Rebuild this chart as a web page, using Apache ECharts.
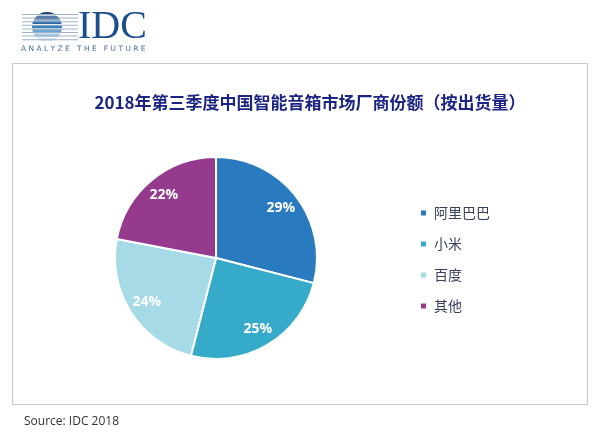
<!DOCTYPE html>
<html>
<head>
<meta charset="utf-8">
<script src="https://cdn.jsdelivr.net/npm/echarts@6/dist/echarts.min.js"></script>
<style>
  html, body { margin: 0; padding: 0; background: #fff; }
  #chart { width: 600px; height: 436px; }
</style>
</head>
<body>
<div id="chart"></div>
<script>
// 厂商 & 份额
const vendors = ['阿里巴巴', '小米', '百度', '其他'];
const shares = [29, 25, 24, 22];
const colors = ['#2a7abf', '#36abc9', '#a5dae6', '#963a8e'];

const chart = echarts.init(document.getElementById('chart'), null, { renderer: 'canvas' });

let pieData = vendors.map((name, i) => ({ name, value: shares[i] }));

// IDC logo 横条纹
let logoLines = [];
for (let i = 0; i < 8; i++) {
  let y = 14 + i * 3.6;
  logoLines.push({
    type: 'rect',
    shape: { x: 22, y: y, width: 56, height: 1 },
    style: { fill: '#9fb3c8' },
    z: 1
  });
}
// 圆形上的深浅条纹
let circleStripes = [];
const stripeColors = ['#1b3f6e', '#1f4f86', '#2a66a3', '#3f80bb', '#6fa3cf', '#a9c8e3', '#d6e5f2'];
for (let i = 0; i < 7; i++) {
  let y0 = 12 + i * 4.3;
  circleStripes.push({
    type: 'rect',
    shape: { x: 30, y: y0, width: 34, height: 3.3 },
    style: { fill: stripeColors[i] }
  });
}

let option = {
  backgroundColor: '#ffffff',
  color: colors,
  title: {
    text: '2018年第三季度中国智能音箱市场厂商份额（按出货量）',
    left: 305,
    textAlign: 'center',
    top: 89,
    textStyle: {
      fontFamily: 'Noto Sans CJK SC',
      fontSize: 17,
      fontWeight: 'bold',
      color: '#1c2682'
    }
  },
  legend: {
    orient: 'vertical',
    left: 414,
    top: 201,
    itemWidth: 7,
    itemHeight: 7,
    itemGap: 17,
    icon: 'rect',
    selectedMode: false,
    data: vendors,
    textStyle: {
      fontFamily: 'Noto Sans CJK SC',
      fontSize: 14,
      color: '#3a3f5c',
      padding: [0, 0, 0, 2]
    }
  },
  graphic: [
    // 外框
    {
      type: 'rect',
      shape: { x: 12.5, y: 63.5, width: 575, height: 341 },
      style: { fill: 'none', stroke: '#c8c8c8', lineWidth: 1.2 },
      z: 0
    },
    ...logoLines,
    {
      type: 'group',
      children: [
        {
          type: 'circle',
          shape: { cx: 47, cy: 27, r: 15 },
          style: { fill: '#fff' }
        }
      ],
      z: 2
    },
    {
      type: 'group',
      clipPath: { type: 'circle', shape: { cx: 47, cy: 27, r: 15 } },
      children: circleStripes,
      z: 3
    },
    {
      type: 'text',
      left: 78,
      top: 7,
      style: {
        text: 'IDC',
        font: '40px "Liberation Serif", "DejaVu Serif", serif',
        fill: '#1d4f8c'
      },
      z: 3
    },
    {
      type: 'text',
      left: 21,
      top: 45,
      style: {
        text: 'A N A L Y Z E   T H E   F U T U R E',
        font: '7.5px "DejaVu Sans", sans-serif',
        fill: '#4a6f98'
      },
      z: 3
    },
    {
      type: 'text',
      left: 24,
      top: 416,
      style: {
        text: 'Source: IDC 2018',
        font: '12px "Open Sans", "Noto Sans", sans-serif',
        fill: '#333333'
      }
    }
  ],
  series: [
    {
      type: 'pie',
      center: [216, 258],
      radius: [0, 101],
      startAngle: 90,
      clockwise: true,
      silent: true,
      label: { show: false },
      labelLine: { show: false },
      itemStyle: { borderColor: '#ffffff', borderWidth: 2 },
      data: pieData
    },
    {
      // 只画标签, 放在外圈位置
      type: 'pie',
      center: [216, 258],
      radius: [57, 101],
      startAngle: 90,
      clockwise: true,
      silent: true,
      itemStyle: { color: 'rgba(0,0,0,0)' },
      label: {
        show: true,
        position: 'inside',
        formatter: '{c}%',
        color: '#ffffff',
        fontFamily: 'Open Sans',
        fontWeight: 'bold',
        fontSize: 14
      },
      labelLine: { show: false },
      data: pieData
    }
  ]
};

chart.setOption(option);
</script>
</body>
</html>
